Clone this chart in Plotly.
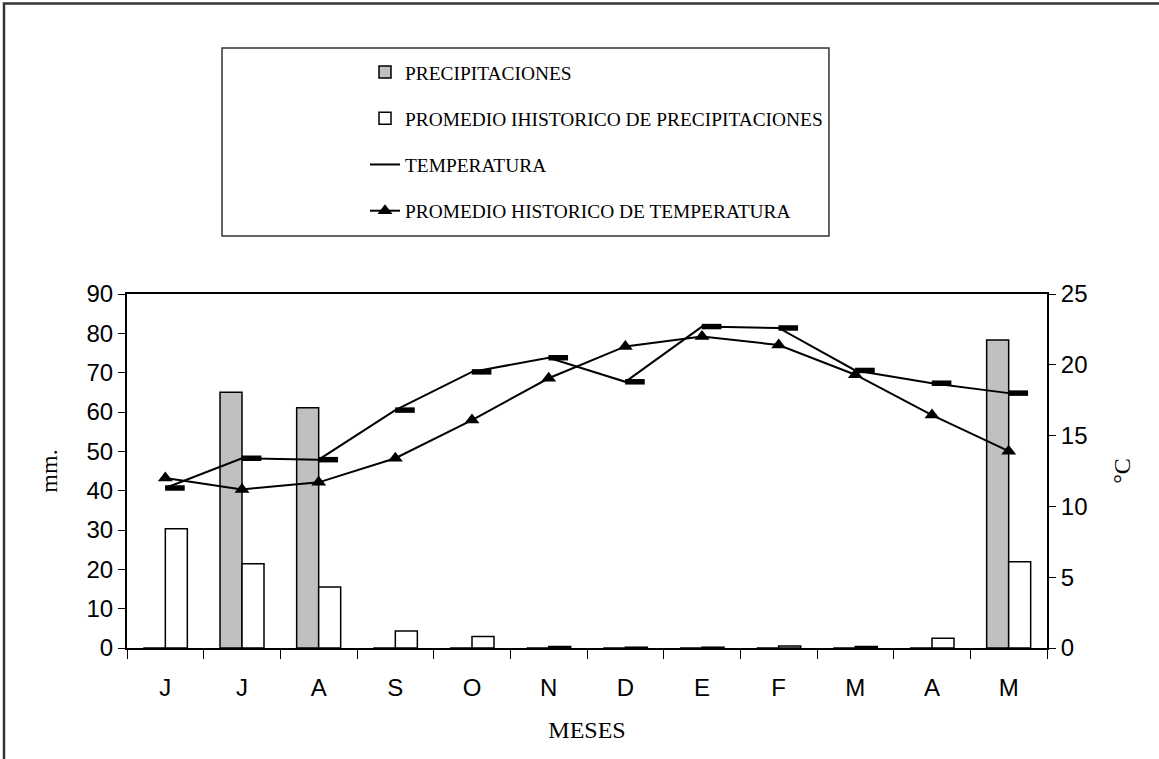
import plotly.graph_objects as go

# months (unique keys) and the single-letter labels shown on the axis
meses = ["Junio", "Julio", "Agosto", "Septiembre", "Octubre", "Noviembre",
         "Diciembre", "Enero", "Febrero", "Marzo", "Abril", "Mayo"]
meses_label = ["J", "J", "A", "S", "O", "N", "D", "E", "F", "M", "A", "M"]

# mm.
precipitaciones = [0, 65.0, 61.1, 0, 0, 0, 0, 0, 0, 0, 0, 78.3]
promedio_precipitaciones = [30.3, 21.4, 15.5, 4.3, 2.9, 0.4, 0.2, 0.2, 0.5, 0.4, 2.5, 21.9]

# °C
temperatura = [11.3, 13.4, 13.3, 16.8, 19.5, 20.5, 18.8, 22.7, 22.6, 19.6, 18.7, 18.0]
promedio_temperatura = [12.0, 11.2, 11.7, 13.4, 16.1, 19.05, 21.3, 22.0, 21.4, 19.3, 16.45, 13.9]

sans = "Liberation Sans, Arial, sans-serif"
serif = "Liberation Serif, Times New Roman, serif"

fig = go.Figure()
fig.add_trace(go.Bar(x=meses, y=precipitaciones, name="PRECIPITACIONES",
                     marker=dict(color="#c0c0c0", line=dict(color="black", width=1.5)),
                     legendgroup="a"))
fig.add_trace(go.Bar(x=meses, y=promedio_precipitaciones,
                     name="PROMEDIO IHISTORICO DE PRECIPITACIONES",
                     marker=dict(color="white", line=dict(color="black", width=1.5)),
                     legendgroup="b"))
fig.add_trace(go.Scatter(x=meses, y=temperatura, yaxis="y2", mode="lines",
                         line=dict(color="black", width=2),
                         name="TEMPERATURA", legendgroup="c"))
fig.add_trace(go.Scatter(x=meses, y=promedio_temperatura, yaxis="y2", mode="lines+markers",
                         line=dict(color="black", width=2),
                         marker=dict(symbol="triangle-up", size=13, color="black"),
                         name="PROMEDIO HISTORICO DE TEMPERATURA", legendgroup="d"))
# the dash markers of the temperature line sit just right of each point
fig.add_trace(go.Scatter(x=meses, y=temperatura, xaxis="x2", yaxis="y2", mode="markers",
                         marker=dict(symbol="line-ew", size=14, color="black",
                                     line=dict(color="black", width=5.5)),
                         showlegend=False, hoverinfo="skip"))

shift = 0.125
fig.update_layout(
    width=1159, height=759,
    margin=dict(l=127, r=112, t=294, b=111),
    paper_bgcolor="white", plot_bgcolor="white",
    barmode="group", bargap=0.426, bargroupgap=0,
    font=dict(family=sans, color="black"),
    showlegend=True,
    legend=dict(x=0.2587, y=1.681, xanchor="left", yanchor="top",
                font=dict(family=serif, size=19.4, color="black"),
                bgcolor="rgba(0,0,0,0)", tracegroupgap=18),
    xaxis=dict(type="category", categoryorder="array", categoryarray=meses,
               range=[-0.5, 11.5], tickmode="array", tickvals=meses, ticktext=meses_label,
               tickson="boundaries", ticks="outside", ticklen=9, tickcolor="black", tickwidth=1,
               showline=True, linecolor="black", linewidth=2, mirror=True,
               showgrid=False, tickfont=dict(family=sans, size=24), ticklabelstandoff=17,
               title=dict(text="MESES", font=dict(family=serif, size=24), standoff=21)),
    xaxis2=dict(type="category", categoryorder="array", categoryarray=meses,
                overlaying="x", range=[-0.5 - shift, 11.5 - shift], visible=False),
    yaxis=dict(range=[0, 90], dtick=10, ticks="outside", ticklen=7, tickcolor="black",
               showline=True, linecolor="black", linewidth=2, showgrid=False, zeroline=False,
               tickfont=dict(family=sans, size=24),
               title=dict(text="mm.", font=dict(family=serif, size=24), standoff=22)),
    yaxis2=dict(range=[0, 25], dtick=5, overlaying="y", side="right", anchor="x",
                ticks="outside", ticklen=7, tickcolor="black",
                showline=True, linecolor="black", linewidth=2, showgrid=False, zeroline=False,
                tickfont=dict(family=sans, size=24),
                title=dict(text="°C", font=dict(family=serif, size=24), standoff=27)),
    shapes=[
        dict(type="rect", xref="paper", yref="paper", x0=0.1033, x1=0.763, y0=1.1638, y1=1.695,
             line=dict(color="#333333", width=1.5), layer="below"),
        dict(type="rect", xref="paper", yref="paper", x0=-0.1337, x1=1.14, y0=-0.35, y1=1.8206,
             line=dict(color="#333333", width=2.5), layer="below"),
    ],
)

fig.write_html("out.html", config={"displayModeBar": False},
               post_script="document.body.style.margin = '0';")
